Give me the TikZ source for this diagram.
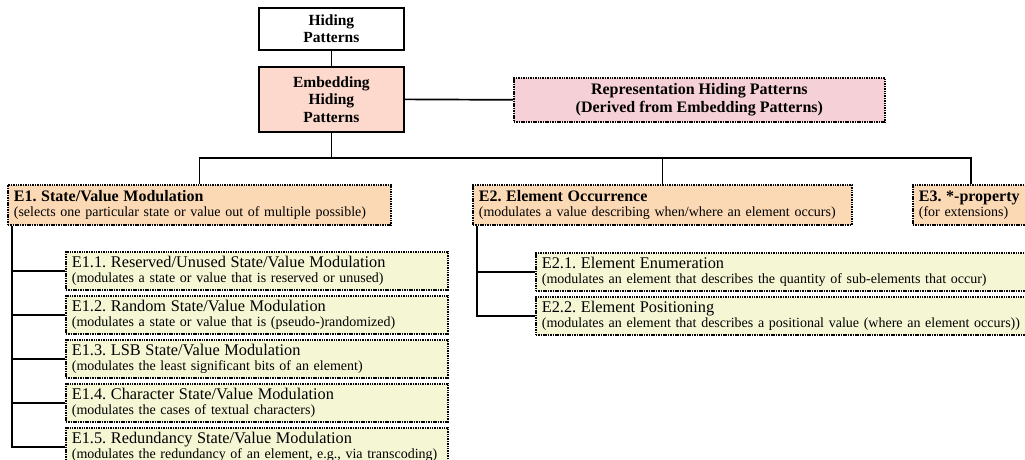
\documentclass[tikz,border=0pt]{standalone}
\usepackage{fontspec}
\setmainfont{Liberation Serif}
\frenchspacing
\definecolor{embfill}{RGB}{252,217,204}
\definecolor{repfill}{RGB}{246,208,215}
\definecolor{catfill}{RGB}{252,217,181}
\definecolor{subfill}{RGB}{245,246,212}
\begin{document}
\begin{tikzpicture}[x=1pt,y=-1pt,
  conn/.style={line width=1.7pt},
  solidbox/.style={draw, line width=1.7pt, anchor=north west, inner sep=0pt, align=center,
    font=\bfseries\fontsize{15.5}{17.5}\selectfont},
  dotbox/.style={draw, line width=1.7pt, dash pattern=on 1.5pt off 0.9pt, anchor=north west,
    inner xsep=6pt, inner ysep=0pt},
  catbox/.style={dotbox, fill=catfill, align=left, minimum height=40pt,
    font=\fontsize{14}{15}\selectfont},
  subbox/.style={dotbox, fill=subfill, align=left, minimum height=38pt,
    font=\fontsize{14}{15}\selectfont},
]
\clip (0,0) rectangle (1025,460);
\fill[white] (0,0) rectangle (1025,460);

% top boxes
\node[solidbox, fill=white, minimum width=145pt, minimum height=42pt] (hid) at (258,7) {Hiding\\Patterns};
\node[solidbox, fill=embfill, minimum width=145pt, minimum height=65pt] (emb) at (258,66) {Embedding\\Hiding\\Patterns};
\node[dotbox, fill=repfill, align=center, minimum width=371pt, minimum height=44pt,
  font=\bfseries\fontsize{16}{17.5}\selectfont] (rep) at (513,77) {Representation Hiding Patterns\\(Derived from Embedding Patterns)};

% category boxes
\node[catbox, minimum width=383pt, text width=371pt] (e1) at (7,184)
  {{\bfseries\fontsize{16}{15}\selectfont E1. State/Value Modulation}\\(selects one particular state or value out of multiple possible)};
\node[catbox, minimum width=379pt, text width=367pt] (e2) at (472,184)
  {{\bfseries\fontsize{16}{15}\selectfont E2. Element Occurrence}\\(modulates a value describing when/where an element occurs)};
\node[catbox, minimum width=116pt, text width=104pt] (e3) at (912,184)
  {{\bfseries\fontsize{16}{15}\selectfont E3. *-property}\\(for extensions)};

% E1 sub-boxes
\node[subbox, minimum width=382pt, text width=370pt] (e11) at (65,251)
  {{\fontsize{16.3}{15}\selectfont E1.1. Reserved/Unused State/Value Modulation}\\(modulates a state or value that is reserved or unused)};
\node[subbox, minimum width=382pt, text width=370pt] (e12) at (65,295)
  {{\fontsize{16.3}{15}\selectfont E1.2. Random State/Value Modulation}\\(modulates a state or value that is (pseudo-)randomized)};
\node[subbox, minimum width=382pt, text width=370pt] (e13) at (65,339)
  {{\fontsize{16.3}{15}\selectfont E1.3. LSB State/Value Modulation}\\(modulates the least significant bits of an element)};
\node[subbox, minimum width=382pt, text width=370pt] (e14) at (65,383)
  {{\fontsize{16.3}{15}\selectfont E1.4. Character State/Value Modulation}\\(modulates the cases of textual characters)};
\node[subbox, minimum width=382pt, text width=370pt] (e15) at (65,427)
  {{\fontsize{16.3}{15}\selectfont E1.5. Redundancy State/Value Modulation}\\(modulates the redundancy of an element, e.g., via transcoding)};

% E2 sub-boxes
\node[subbox, minimum width=500pt, text width=488pt] (e21) at (535,252)
  {{\fontsize{16.3}{15}\selectfont E2.1. Element Enumeration}\\(modulates an element that describes the quantity of sub-elements that occur)};
\node[subbox, minimum width=500pt, text width=488pt] (e22) at (535,296)
  {{\fontsize{16.3}{15}\selectfont E2.2. Element Positioning}\\(modulates an element that describes a positional value (where an element occurs))};

% connectors
\coordinate (busy) at (0,158);
\draw[conn] (hid.south) -- (emb.north);
\draw[conn] (emb.east) -- (rep.west);
\draw[conn] (emb.south) -- (emb.south |- busy);
\draw[conn] (e1.north) -- (e1.north |- busy) -- (e3.north |- busy) -- (e3.north);
\draw[conn] (e2.north) -- (e2.north |- busy);

\coordinate (s1) at ([xshift=5pt]e1.south west);
\draw[conn] (s1) |- (e15.west);
\foreach \n in {e11,e12,e13,e14} \draw[conn] (s1 |- \n.west) -- (\n.west);

\coordinate (s2) at ([xshift=5pt]e2.south west);
\draw[conn] (s2) |- (e22.west);
\draw[conn] (s2 |- e21.west) -- (e21.west);
\end{tikzpicture}
\end{document}
